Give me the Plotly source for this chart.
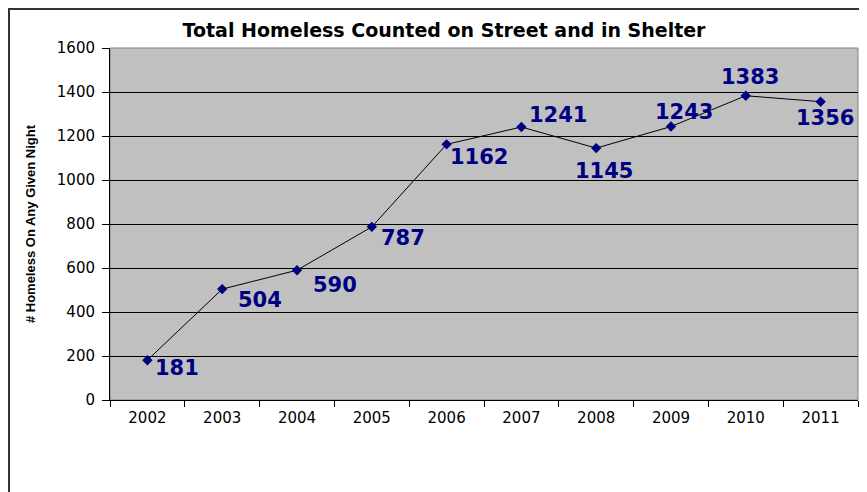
import plotly.graph_objects as go

years = ["2002", "2003", "2004", "2005", "2006", "2007", "2008", "2009", "2010", "2011"]
homeless = [181, 504, 590, 787, 1162, 1241, 1145, 1243, 1383, 1356]
# label offsets from each point (pixels: right, up)
label_dx = [30, 38, 38, 31, 32, 37, 8, 13, 4, 4]
label_dy = [-8, -11, -15, -11, -13, 12, -23, 15, 19, -16]

# page body has an 8px margin
W, H = 851, 484
ml, mr, mt, mb = 102, 1, 40, 92
pw, ph = W - ml - mr, H - mt - mb

fig = go.Figure()
fig.add_trace(go.Scatter(
    x=years, y=homeless, mode="lines+markers",
    line=dict(color="black", width=1),
    marker=dict(symbol="diamond", size=8, color="#000080"),
    hoverinfo="skip", showlegend=False, cliponaxis=False,
))

annotations = []
for i, v in enumerate(homeless):
    annotations.append(dict(
        x=i, y=v, xref="x", yref="y", text=f"<b>{v}</b>", showarrow=False,
        xanchor="center", yanchor="middle",
        xshift=label_dx[i], yshift=label_dy[i],
        font=dict(family="DejaVu Sans", size=21, color="#000080"),
    ))

shapes = [
    dict(type="rect", xref="paper", yref="paper", x0=0, y0=0, x1=1, y1=1,
         line=dict(color="#808080", width=1), layer="below"),
    dict(type="rect", xref="paper", yref="paper",
         x0=(1 - ml) / pw, x1=(W + 20 - ml) / pw,
         y0=-(mb + 20) / ph, y1=(mt + ph - 1) / ph,
         line=dict(color="#333333", width=2)),
]

fig.update_layout(
    width=W, height=H,
    margin=dict(l=ml, r=mr, t=mt, b=mb),
    paper_bgcolor="white", plot_bgcolor="#C0C0C0",
    title=dict(text="<b>Total Homeless Counted on Street and in Shelter</b>",
               x=436 / W, xanchor="center", y=1 - 22 / H, yanchor="middle",
               xref="container", yref="container",
               font=dict(family="DejaVu Sans", size=19, color="black")),
    xaxis=dict(type="category", showgrid=False, showline=True, linecolor="black", linewidth=1,
               ticks="outside", ticklen=6, tickcolor="black", tickson="boundaries",
               ticklabelstandoff=4,
               tickfont=dict(family="DejaVu Sans", size=15, color="black"),
               range=[-0.5, 9.5]),
    yaxis=dict(range=[0, 1600], dtick=200, showgrid=True, gridcolor="black", gridwidth=1,
               showline=True, linecolor="black", linewidth=1, zeroline=False,
               ticks="outside", ticklen=7, tickcolor="black", ticklabelstandoff=4,
               tickfont=dict(family="DejaVu Sans", size=15, color="black"),
               title=dict(text="<b># Homeless On Any Given Night</b>", standoff=18,
                          font=dict(family="Liberation Sans Narrow, Liberation Sans", size=13,
                                    color="black"))),
    annotations=annotations,
    shapes=shapes,
)

fig.write_html("out.html")
